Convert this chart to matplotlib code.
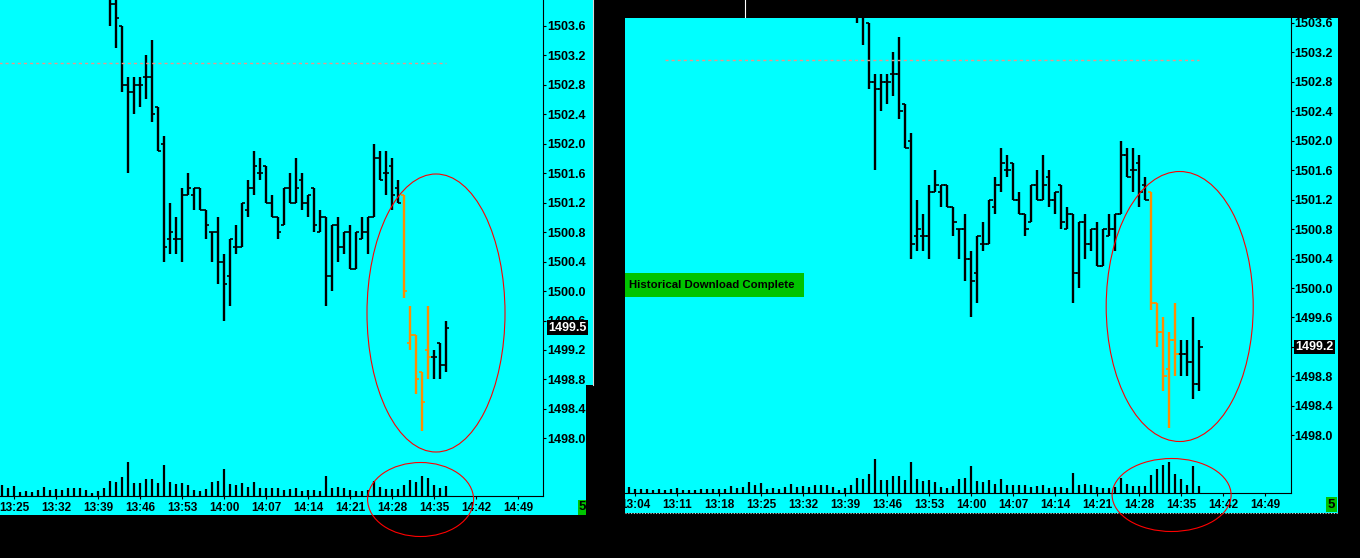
import matplotlib.pyplot as plt
from matplotlib.patches import Rectangle, Ellipse
from matplotlib.lines import Line2D
from matplotlib.transforms import blended_transform_factory
import numpy as np

plt.rcParams['font.family'] = ['Liberation Sans', 'DejaVu Sans']
plt.rcParams['font.weight'] = 'bold'

# ---- data (1-minute OHLC bars, same history in both screens up to 14:29) ----
first_bar = "13:41"
common_open = [1504.2, 1503.9, 1503.6, 1502.8, 1502.7, 1502.8, 1502.9, 1502.9, 1502.5, 1502.0,
               1500.7, 1500.7, 1500.7, 1501.3, 1501.3, 1501.4, 1501.1, 1500.8, 1500.8, 1500.4,
               1500.2, 1500.6, 1500.6, 1501.1, 1501.4, 1501.6, 1501.7, 1501.2, 1501.0, 1500.9,
               1501.4, 1501.2, 1501.5, 1501.2, 1501.4, 1500.8, 1501.0, 1500.2, 1500.9, 1500.6,
               1500.8, 1500.3, 1500.7, 1500.8, 1501.0, 1501.8, 1501.6, 1501.7, 1501.4]
common_high = [1504.3, 1504.0, 1503.6, 1502.9, 1502.9, 1502.9, 1503.2, 1503.4, 1502.5, 1502.1,
               1501.2, 1501.0, 1501.4, 1501.6, 1501.4, 1501.4, 1501.1, 1500.8, 1501.0, 1500.5,
               1500.7, 1500.9, 1501.2, 1501.5, 1501.9, 1501.8, 1501.7, 1501.3, 1501.0, 1501.4,
               1501.6, 1501.8, 1501.6, 1501.3, 1501.4, 1501.1, 1501.0, 1500.9, 1501.0, 1500.8,
               1500.9, 1500.8, 1501.0, 1501.0, 1502.0, 1501.9, 1501.9, 1501.8, 1501.5]
common_low = [1503.6, 1503.3, 1502.7, 1501.6, 1502.4, 1502.5, 1502.6, 1502.3, 1501.9, 1500.4,
              1500.5, 1500.5, 1500.4, 1501.3, 1501.1, 1501.1, 1500.7, 1500.4, 1500.1, 1499.6,
              1499.8, 1500.5, 1500.6, 1501.0, 1501.3, 1501.5, 1501.2, 1501.0, 1500.7, 1500.9,
              1501.2, 1501.2, 1501.1, 1501.0, 1500.8, 1500.8, 1499.8, 1500.0, 1500.4, 1500.5,
              1500.3, 1500.3, 1500.7, 1500.5, 1501.0, 1501.5, 1501.3, 1501.1, 1501.2]
common_close = [1503.9, 1503.7, 1502.8, 1502.7, 1502.8, 1502.8, 1502.9, 1502.4, 1501.9, 1500.6,
                1500.8, 1500.7, 1501.3, 1501.4, 1501.4, 1501.1, 1500.9, 1500.8, 1500.4, 1500.1,
                1500.7, 1500.6, 1501.2, 1501.4, 1501.7, 1501.6, 1501.2, 1501.0, 1500.8, 1501.4,
                1501.2, 1501.4, 1501.2, 1501.3, 1500.9, 1501.0, 1500.2, 1500.9, 1500.6, 1500.8,
                1500.3, 1500.8, 1500.8, 1501.0, 1501.8, 1501.5, 1501.6, 1501.3, 1501.2]

# last bars of the first screenshot (14:30 - 14:37)
left_open = [1501.3, 1499.3, 1499.4, 1498.9, 1499.2, 1499.1, 1499.3, 1499.0]
left_high = [1501.3, 1499.8, 1499.4, 1498.9, 1499.8, 1499.2, 1499.3, 1499.6]
left_low = [1499.9, 1499.2, 1498.6, 1498.1, 1498.8, 1498.8, 1498.8, 1498.9]
left_close = [1500.0, 1499.4, 1498.8, 1498.5, 1499.1, 1499.1, 1499.0, 1499.5]

# last bars of the second screenshot (14:30 - 14:38)
right_open = [1501.3, 1499.8, 1499.4, 1498.9, 1499.3, 1499.1, 1499.1, 1499.0, 1498.7]
right_high = [1501.3, 1499.8, 1499.6, 1499.4, 1499.8, 1499.3, 1499.3, 1499.6, 1499.3]
right_low = [1499.7, 1499.2, 1498.6, 1498.1, 1498.8, 1498.8, 1498.8, 1498.5, 1498.6]
right_close = [1499.8, 1499.4, 1498.8, 1499.3, 1499.1, 1499.1, 1499.0, 1498.7, 1499.2]

first_vol = "13:03"
common_volume = [57, 37, 37, 37, 27, 37, 27, 37, 47, 27, 27, 27, 37, 37, 37, 37, 37, 67, 47, 57,
                 107, 77, 97, 37, 47, 37, 57, 87, 57, 67, 57, 77, 77, 77, 57, 27, 47, 77, 147, 137,
                 187, 337, 127, 127, 167, 167, 127, 307, 137, 117, 127, 107, 57, 47, 67, 137, 147, 267, 117, 107,
                 127, 87, 137, 77, 77, 77, 77, 57, 67, 77, 47, 57, 57, 47, 197, 77, 87, 77, 57, 47,
                 47, 57, 147, 87, 67, 67, 67]
left_volume = [107, 157, 137, 197, 177, 107, 77, 97]
right_volume = [177, 237, 277, 307, 187, 137, 77, 267, 67]

highlight = ("14:30", "14:34")   # orange bars
ref_level = 1503.1
ref_start = "13:09"

price_ticks = [1498.0, 1498.4, 1498.8, 1499.2, 1499.6, 1500.0, 1500.4, 1500.8, 1501.2,
               1501.6, 1502.0, 1502.4, 1502.8, 1503.2, 1503.6, 1504.0]
left_times = ["13:25", "13:32", "13:39", "13:46", "13:53", "14:00", "14:07", "14:14",
              "14:21", "14:28", "14:35", "14:42", "14:49"]
right_times = ["13:04", "13:11", "13:18", "13:25", "13:32", "13:39", "13:46", "13:53",
               "14:00", "14:07", "14:14", "14:21", "14:28", "14:35", "14:42", "14:49"]

W, H = 1360, 558
CYAN = '#00ffff'
ORANGE = '#ff8c00'
GREEN = '#00c400'


def tmin(s):
    h, m = s.split(':')
    return int(h) * 60 + int(m)


def frac(x0, y0, x1, y1):
    return [x0 / W, 1 - y1 / H, (x1 - x0) / W, (y1 - y0) / H]


fig = plt.figure(figsize=(W / 100, H / 100), dpi=100, facecolor='black')


def panel(x0, xaxis, ytop, yaxis, tick_px, tick_t, p_px, opens, highs, lows, closes, vols, times):
    ppm = 6.0      # pixels per minute
    ppu = 73.7     # pixels per price unit
    t0 = tmin(tick_t)
    xlim = (t0 - (tick_px - x0) / ppm, t0 + (xaxis - tick_px) / ppm)
    ylim = (1503.6 - (yaxis - p_px) / ppu, 1503.6 + (p_px - ytop) / ppu)

    ax = fig.add_axes(frac(x0, ytop, xaxis, yaxis))
    ax.patch.set_visible(False)
    for s in ['left', 'top']:
        ax.spines[s].set_visible(False)
    for s in ['right', 'bottom']:
        ax.spines[s].set_linewidth(0.8)
        ax.spines[s].set_color('black')
    ax.yaxis.tick_right()
    ax.set_yticks(price_ticks)
    ax.set_yticklabels(['%.1f' % p for p in price_ticks])
    ax.set_xticks([tmin(t) for t in times])
    ax.set_xticklabels(times)
    # limits after the ticks, otherwise set_ticks widens the view
    ax.set_xlim(xlim)
    ax.set_ylim(ylim)
    ax.tick_params(axis='y', direction='out', length=2.3, width=0.8, pad=0.6, labelsize=9)
    ax.tick_params(axis='x', direction='out', length=2.3, width=0.8, pad=2.0, labelsize=8.5)

    tr = blended_transform_factory(fig.transFigure, ax.transData)
    # price labels just above the window top are only partly shown
    for p in price_ticks:
        if ylim[1] < p < ylim[1] + 0.1:
            ax.text((xaxis + 4) / W, p, '%.1f' % p, transform=tr, fontsize=9,
                    va='center', ha='left', clip_on=False)

    t = tmin(first_bar) + np.arange(len(opens))
    hl = (t >= tmin(highlight[0])) & (t <= tmin(highlight[1]))
    cols = np.where(hl, ORANGE, 'black')
    ax.vlines(t, lows, highs, colors=cols, lw=1.7)
    ax.hlines(opens, t - 0.55, t, colors=cols, lw=1.2)
    ax.hlines(closes, t, t + 0.55, colors=cols, lw=1.2)

    ax.hlines(ref_level, tmin(ref_start), t[-1], colors='#e8968a', lw=1.0,
              linestyles=(0, (2.2, 2.2)))

    # volume pane
    vax = fig.add_axes(frac(x0, yaxis - 40, xaxis, yaxis))
    vax.set_xlim(xlim)
    vax.set_ylim(0, 400)
    vax.axis('off')
    tv = tmin(first_vol) + np.arange(len(vols))
    vax.vlines(tv, 0, vols, colors='black', lw=1.6)

    # last price box
    ax.text((xaxis + 5) / W, closes[-1], '%.1f' % closes[-1], transform=tr, color='white',
            fontsize=9, va='center', ha='left', zorder=30, clip_on=False,
            bbox=dict(facecolor='black', edgecolor='none', pad=1.0))
    return ax


# backgrounds
fig.add_artist(Rectangle((0, 1 - 515 / H), 593 / W, 515 / H, transform=fig.transFigure,
                         facecolor=CYAN, edgecolor='none', zorder=-5))
fig.add_artist(Rectangle((625 / W, 1 - 513 / H), 713 / W, (513 - 17.7) / H, transform=fig.transFigure,
                         facecolor=CYAN, edgecolor='none', zorder=-5))

panel(0, 543, 0, 495.7, 56, "13:32", 25.7,
      common_open + left_open, common_high + left_high, common_low + left_low,
      common_close + left_close, common_volume + left_volume, left_times)
panel(625, 1290.7, 17.7, 492.7, 635.3, "13:04", 22.7,
      common_open + right_open, common_high + right_high, common_low + right_low,
      common_close + right_close, common_volume + right_volume, right_times)

# green status boxes
fig.add_artist(Rectangle((578 / W, 1 - 515 / H), 14 / W, 15 / H, transform=fig.transFigure,
                         facecolor=GREEN, edgecolor='none', zorder=5))
fig.text(582.5 / W, 1 - 507.5 / H, '5', fontsize=9.5, ha='center', va='center', zorder=6)
fig.add_artist(Rectangle((1325.5 / W, 1 - 512.3 / H), 11 / W, 15.6 / H, transform=fig.transFigure,
                         facecolor=GREEN, edgecolor='none', zorder=5))
fig.text(1331 / W, 1 - 504.5 / H, '5', fontsize=9.5, ha='center', va='center', zorder=6)
fig.add_artist(Rectangle((625 / W, 1 - 296.7 / H), 179 / W, 23.7 / H, transform=fig.transFigure,
                         facecolor=GREEN, edgecolor='none', zorder=5))
fig.text(629 / W, 1 - 285.5 / H, 'Historical Download Complete', fontsize=8.2,
         ha='left', va='center', zorder=6)

# black frame parts between the two windows
fig.add_artist(Rectangle((593 / W, 0), 32 / W, 1, transform=fig.transFigure,
                         facecolor='black', edgecolor='none', zorder=10))
fig.add_artist(Rectangle((586 / W, 0), 39 / W, 1 - 385 / H, transform=fig.transFigure,
                         facecolor='black', edgecolor='none', zorder=10))
fig.add_artist(Rectangle((593 / W, 1 - 17.7 / H), 767 / W, 17.7 / H, transform=fig.transFigure,
                         facecolor='black', edgecolor='none', zorder=10))
fig.add_artist(Line2D([592.5 / W, 592.5 / W], [1, 1 - 385 / H], transform=fig.transFigure,
                      color='#d8d8d8', lw=0.8, zorder=11))
fig.add_artist(Line2D([745 / W, 745 / W], [1, 1 - 17 / H], transform=fig.transFigure,
                      color='white', lw=0.8, zorder=11))
fig.add_artist(Line2D([625 / W, 1338 / W], [1 - 513 / H, 1 - 513 / H], transform=fig.transFigure,
                      color='#d0d0d0', lw=0.8, linestyle=(0, (1, 1.5)), zorder=11))

# red hand-drawn circles
for cx, cy, w, h in [(436, 313, 138, 278), (420.6, 499.5, 106, 74),
                     (1179.7, 306.5, 147, 270), (1171.6, 495, 119, 73)]:
    fig.add_artist(Ellipse((cx / W, 1 - cy / H), w / W, h / H, transform=fig.transFigure,
                           fill=False, edgecolor='red', lw=0.8, zorder=20))

fig.savefig('out.png', dpi=100, facecolor='black')
